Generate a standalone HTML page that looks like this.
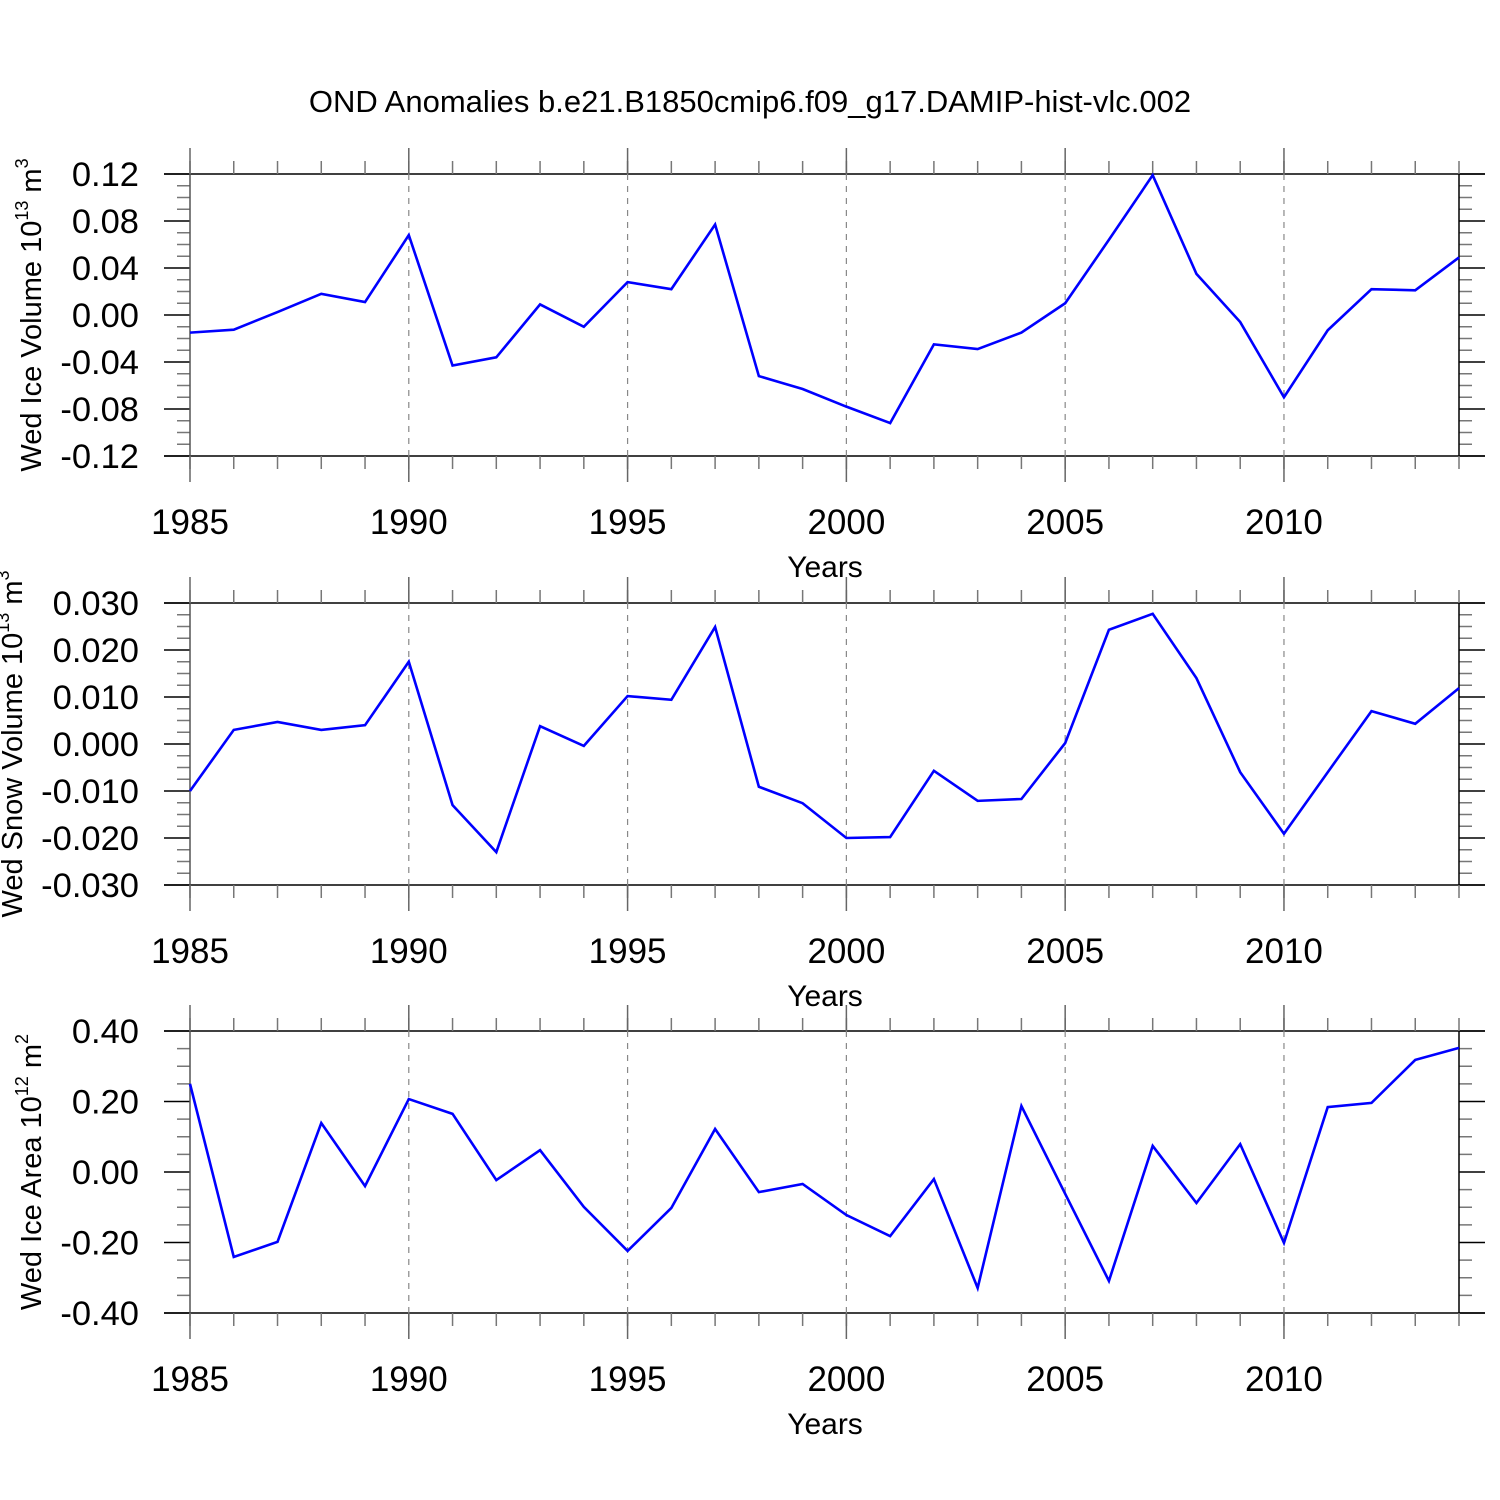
<!DOCTYPE html>
<html><head><meta charset="utf-8"><style>
html,body{margin:0;padding:0;background:#fff}
svg{display:block;font-family:"Liberation Sans",sans-serif}
</style></head><body>
<svg id="chart" width="1500" height="1500" xmlns="http://www.w3.org/2000/svg">
<rect width="1500" height="1500" fill="#fff"/>
<text x="750" y="112" font-size="31" text-anchor="middle">OND Anomalies b.e21.B1850cmip6.f09_g17.DAMIP-hist-vlc.002</text>
</svg>
<script>
const years = [1985,1986,1987,1988,1989,1990,1991,1992,1993,1994,1995,1996,1997,1998,1999,2000,2001,2002,2003,2004,2005,2006,2007,2008,2009,2010,2011,2012,2013,2014];
const iceVolume = [-0.015,-0.0125,0.0025,0.018,0.011,0.068,-0.043,-0.036,0.009,-0.010,0.028,0.022,0.077,-0.052,-0.063,-0.078,-0.092,-0.025,-0.029,-0.015,0.010,0.064,0.119,0.035,-0.006,-0.070,-0.013,0.022,0.021,0.049];
const snowVolume = [-0.010,0.003,0.0047,0.003,0.004,0.0175,-0.013,-0.023,0.0038,-0.0004,0.0102,0.0094,0.0249,-0.0091,-0.0126,-0.020,-0.0198,-0.0057,-0.0121,-0.0117,0.0002,0.0243,0.0277,0.0140,-0.006,-0.0191,-0.006,0.0070,0.0043,0.0119];
const iceArea = [0.25,-0.241,-0.198,0.139,-0.040,0.207,0.165,-0.023,0.062,-0.099,-0.224,-0.102,0.122,-0.057,-0.034,-0.122,-0.182,-0.020,-0.329,0.187,-0.062,-0.309,0.074,-0.088,0.079,-0.201,0.184,0.196,0.318,0.352];
const iceVolTicks = [-0.12,-0.08,-0.04,0,0.04,0.08,0.12];
const snowTicks = [-0.03,-0.02,-0.01,0,0.01,0.02,0.03];
const areaTicks = [-0.4,-0.2,0,0.2,0.4];
const xTicks = [1985,1990,1995,2000,2005,2010];

const svg = document.getElementById('chart');
const NS = 'http://www.w3.org/2000/svg';
function mk(tag, attrs, parent){const e=document.createElementNS(NS,tag);for(const k in attrs)e.setAttribute(k,attrs[k]);(parent||svg).appendChild(e);return e;}
const X0=190,X1=1459;
function xs(y){return X0+(y-1985)*(X1-X0)/29;}

function panel(top, ticks, dec, data, titleParts, titleX, name){
  const bot=top+282, ymin=ticks[0], ymax=ticks[ticks.length-1];
  const ys=v=>bot-(v-ymin)*282/(ymax-ymin);
  const g=mk('g',{});
  
  
  const step=ticks[1]-ticks[0];
  for(let i=0;i<ticks.length-1;i++){for(let j=1;j<4;j++){const y=ys(ticks[i]+step*j/4);
    mk('line',{x1:177,x2:X0,y1:y,y2:y,stroke:'#777','stroke-width':1.5},g);
    mk('line',{x1:X1,x2:1472,y1:y,y2:y,stroke:'#777','stroke-width':1.5},g);}}
  ticks.forEach(t=>{const y=ys(t);
    mk('line',{x1:164,x2:1485,y1:y,y2:y,stroke:(t===ymin||t===ymax)?'#000':'none','stroke-width':1.5},g);
    mk('line',{x1:164,x2:X0,y1:y,y2:y,stroke:'#000','stroke-width':1.5},g);
    mk('line',{x1:X1,x2:1485,y1:y,y2:y,stroke:'#000','stroke-width':1.5},g);
    const tl=mk('text',{x:139,y:y+12,'font-size':34.5,'text-anchor':'end'},g);
    
    
    tl.textContent=t.toFixed(dec);});
  years.forEach(yr=>{const x=xs(yr);
    mk('line',{x1:x,x2:x,y1:top-13,y2:top,stroke:'#777','stroke-width':1.5},g);
    mk('line',{x1:x,x2:x,y1:bot,y2:bot+13,stroke:'#777','stroke-width':1.5},g);});
  xTicks.forEach(yr=>{const x=xs(yr);
    mk('line',{x1:x,x2:x,y1:top-26,y2:top,stroke:'#666','stroke-width':1.5},g);
    mk('line',{x1:x,x2:x,y1:bot,y2:bot+26,stroke:'#666','stroke-width':1.5},g);
    if(yr>1985) mk('line',{x1:x,x2:x,y1:top,y2:bot,stroke:'#888','stroke-width':1.2,'stroke-dasharray':'6,6'},g);
    const xl=mk('text',{x:x,y:bot+78,'font-size':35,'text-anchor':'middle'},g);
    
    
    xl.textContent=yr;});
  mk('line',{x1:X0,x2:X0,y1:top,y2:bot,stroke:'#555','stroke-width':1.5},g);
  mk('line',{x1:X1,x2:X1,y1:top,y2:bot,stroke:'#000','stroke-width':1.5},g);
  const xt=mk('text',{x:825,y:bot+121,'font-size':30,'text-anchor':'middle'},g);
  
  
  xt.textContent='Years';
  const cy=(top+bot)/2;
  const yt=mk('text',{x:titleX,y:cy,'font-size':29,'text-anchor':'middle',transform:`rotate(-90 ${titleX} ${cy})`,dy:10},g);
  
  
  titleParts.forEach(p=>{const ts=mk('tspan',p[1]?{'font-size':18,dy:-13}:{dy:p[2]||0},yt);ts.textContent=p[0];});
  const pts=data.map((v,i)=>xs(years[i])+','+ys(v)).join(' ');
  const ln=mk('polyline',{points:pts,fill:'none',stroke:'#0000ff','stroke-width':2.6,'stroke-linejoin':'miter'},g);
  
  
}
panel(174,iceVolTicks,2,iceVolume,[['Wed Ice Volume 10'],['13',1],[' m',0,13],['3',1]],41,'ice-volume');
panel(603,snowTicks,3,snowVolume,[['Wed Snow Volume 10'],['13',1],[' m',0,13],['3',1]],22,'snow-volume');
panel(1031,areaTicks,2,iceArea,[['Wed Ice Area 10'],['12',1],[' m',0,13],['2',1]],41,'ice-area');
</script>
</body></html>
